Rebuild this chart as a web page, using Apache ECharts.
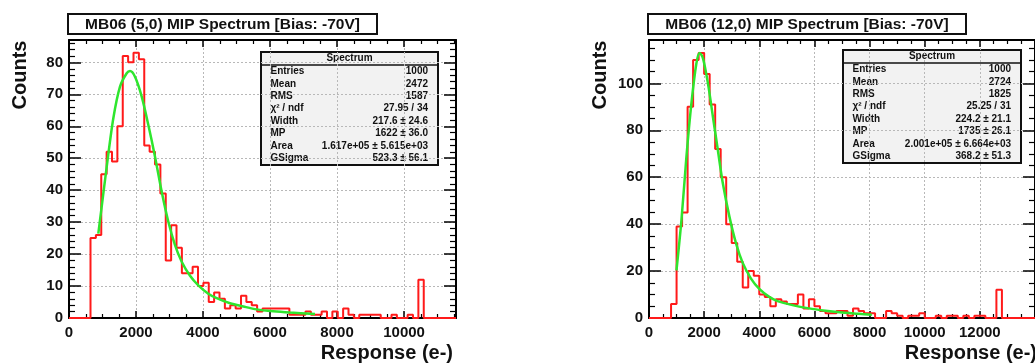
<!DOCTYPE html>
<html>
<head>
<meta charset="utf-8">
<script src="https://cdn.jsdelivr.net/npm/echarts@6/dist/echarts.min.js"></script>
<style>
  html, body { margin: 0; padding: 0; background: #fff; }
  #chart { width: 1035px; height: 363px; }
</style>
</head>
<body>
<div id="chart"></div>
<script>
// left histogram: 72 bins over 0..11550
const leftXMax = 11550;
const leftCounts = [
  0, 0, 0, 0, 25, 26, 45, 52, 49, 60, 82, 80, 83, 81, 54, 52, 48, 39, 18, 29,
  22, 14, 14, 16, 10, 11, 5, 8, 6, 3, 4, 3, 7, 5, 4, 2, 3, 3, 3, 3,
  3, 1, 1, 1, 2, 1, 1, 2, 0, 2, 0, 3, 1, 0, 1, 1, 1, 1, 0, 0,
  1, 0, 0, 1, 0, 12, 0, 0, 0, 0, 0, 0
];
const leftFit = [
  [875, 26.4], [975, 34.8], [1125, 47.3], [1323, 62.5], [1522, 72.4], [1722, 76.6],
  [1821, 77.3], [1970, 75.5], [2170, 69.3], [2368, 60.4], [2567, 50.5], [2767, 39.5],
  [2965, 30.1], [3164, 22.8], [3364, 17.6], [3612, 13.2], [3860, 10.2], [4158, 7.6],
  [4408, 6.2], [4806, 4.6], [5203, 3.6], [5602, 2.7], [6098, 2.1], [6597, 1.7], [7343, 1.25]
];
const leftTitle = "MB06 (5,0) MIP Spectrum [Bias: -70V]";
const leftStats = [
  ["Entries", "1000"], ["Mean", "2472"], ["RMS", "1587"], ["\u03c7\u00b2 / ndf", "27.95 / 34"],
  ["Width", "217.6 \u00b1 24.6"], ["MP", "1622 \u00b1 36.0"],
  ["Area", "1.617e+05 \u00b1 5.615e+03"], ["GSigma", "523.3 \u00b1 56.1"]
];

// right histogram: 70 bins over 0..14000
const rightXMax = 14000;
const rightCounts = [
  0, 0, 0, 0, 6, 39, 45, 90, 110, 113, 104, 91, 72, 60, 40, 32, 24, 13, 20, 18,
  10, 9, 5, 8, 7, 6, 6, 10, 4, 8, 5, 3, 2, 2, 3, 3, 1, 4, 3, 2,
  2, 0, 0, 3, 2, 1, 0, 1, 1, 2, 0, 0, 1, 0, 1, 1, 0, 1, 0, 1,
  1, 0, 0, 12, 0, 0, 0, 0, 0, 0
];
const rightFit = [
  [997, 20.3], [1177, 41.7], [1357, 68.7], [1538, 91.5], [1718, 108.5], [1838, 113],
  [1958, 110.7], [2138, 100], [2318, 85.8], [2498, 71.5], [2679, 57.3], [2919, 43.1],
  [3159, 31.7], [3399, 23.5], [3700, 16.8], [4000, 12.4], [4360, 9], [4661, 7.2],
  [5201, 5.5], [5802, 4.1], [6402, 3.1], [7003, 2.3], [7604, 1.8], [8083, 1.4]
];
const rightTitle = "MB06 (12,0) MIP Spectrum [Bias: -70V]";
const rightStats = [
  ["Entries", "1000"], ["Mean", "2724"], ["RMS", "1825"], ["\u03c7\u00b2 / ndf", "25.25 / 31"],
  ["Width", "224.2 \u00b1 21.1"], ["MP", "1735 \u00b1 26.1"],
  ["Area", "2.001e+05 \u00b1 6.664e+03"], ["GSigma", "368.2 \u00b1 51.3"]
];

const FONT = "'Liberation Sans', Arial, Helvetica, sans-serif";

function steps(counts, xMax) {
  const w = xMax / counts.length;
  const pts = counts.map((c, i) => [i * w, c]);
  pts.push([xMax, counts[counts.length - 1]]);
  return pts;
}

const labelStyle = {
  fontSize: 15, fontWeight: "bold", color: "#111", showMaxLabel: false,
  fontFamily: FONT, formatter: (v) => String(v),
};

function xAxes(grid, max, minor) {
  const base = {
    type: "value", gridIndex: grid, min: 0, max: max, interval: 2000,
    axisLine: { show: true, onZero: false, lineStyle: { color: "#000", width: 2 } },
    axisTick: { show: true, inside: true, length: 7, lineStyle: { color: "#000", width: 1.5 } },
    minorTick: { show: true, splitNumber: minor, length: 4, lineStyle: { color: "#000", width: 1.2 } },
  };
  return [
    { ...base, position: "bottom",
      axisLabel: { ...labelStyle, margin: 7 },
      splitLine: { show: true, lineStyle: { color: "#b8b8b8", type: [2, 2], width: 1 } } },
    { ...base, position: "top", axisLabel: { show: false }, splitLine: { show: false } },
  ];
}

function yAxes(grid, max, interval, minor) {
  const base = {
    type: "value", gridIndex: grid, min: 0, max: max, interval: interval,
    axisLine: { show: true, onZero: false, lineStyle: { color: "#000", width: 2 } },
    axisTick: { show: true, inside: true, length: 12, lineStyle: { color: "#000", width: 1.5 } },
    minorTick: { show: true, splitNumber: minor, length: 6, lineStyle: { color: "#000", width: 1.2 } },
  };
  return [
    { ...base, position: "left",
      axisLabel: { ...labelStyle, margin: 6 },
      splitLine: { show: true, lineStyle: { color: "#b8b8b8", type: [2, 2], width: 1 } } },
    { ...base, position: "right", axisLabel: { show: false }, splitLine: { show: false } },
  ];
}

function titleBox(x, y, w, text) {
  return {
    type: "group", x: x, y: y,
    children: [
      { type: "rect", shape: { x: 0, y: 0, width: w, height: 20 },
        style: { fill: "#fff", stroke: "#111", lineWidth: 2 } },
      { type: "text", x: w / 2, y: 10.5,
        style: { text: text, font: "bold 15.5px " + FONT, fill: "#111",
                 textAlign: "center", textVerticalAlign: "middle" } },
    ],
  };
}

function statsBox(x, y, w, rows) {
  const children = [
    { type: "rect", shape: { x: 0, y: 0, width: w, height: 113 },
      style: { fill: "#f2f2f2", stroke: "#111", lineWidth: 2 } },
    { type: "line", shape: { x1: 0, y1: 13, x2: w, y2: 13 },
      style: { stroke: "#111", lineWidth: 1.5 } },
    { type: "text", x: w / 2, y: 6.5,
      style: { text: "Spectrum", font: "bold 10px " + FONT, fill: "#111",
               textAlign: "center", textVerticalAlign: "middle" } },
  ];
  rows.forEach((r, i) => {
    const cy = 19.5 + i * 12.4;
    children.push(
      { type: "text", x: 9.5, y: cy,
        style: { text: r[0], font: "bold 10px " + FONT, fill: "#111", textVerticalAlign: "middle" } },
      { type: "text", x: w - 10, y: cy,
        style: { text: r[1], font: "bold 10px " + FONT, fill: "#111",
                 textAlign: "right", textVerticalAlign: "middle" } }
    );
  });
  return { type: "group", x: x, y: y, children: children };
}

function axisTitles(yx, xRight) {
  return [
    { type: "text", x: yx, y: 75, rotation: Math.PI / 2,
      style: { text: "Counts", font: "bold 20px " + FONT, fill: "#111",
               textAlign: "center", textVerticalAlign: "middle" } },
    { type: "text", x: xRight, y: 353,
      style: { text: "Response (e-)", font: "bold 20px " + FONT, fill: "#111",
               textAlign: "right", textVerticalAlign: "middle" } },
  ];
}

const chart = echarts.init(document.getElementById("chart"), null, { renderer: "canvas" });
chart.setOption({
  animation: false,
  backgroundColor: "#fff",
  textStyle: { fontFamily: FONT },
  grid: [
    { left: 69, top: 40, width: 387, height: 278 },
    { left: 649, top: 40, width: 388, height: 278 },
  ],
  xAxis: [...xAxes(0, leftXMax, 4), ...xAxes(1, rightXMax, 4)],
  yAxis: [...yAxes(0, 87, 10, 5), ...yAxes(1, 118.5, 20, 4)],
  series: [
    { type: "line", xAxisIndex: 0, yAxisIndex: 0, step: "end", symbol: "none",
      data: steps(leftCounts, leftXMax), lineStyle: { color: "#ff1a1a", width: 2 }, z: 3 },
    { type: "line", xAxisIndex: 0, yAxisIndex: 0, smooth: 0.3, symbol: "none",
      data: leftFit, lineStyle: { color: "#2ee62e", width: 2.5 }, z: 4 },
    { type: "line", xAxisIndex: 2, yAxisIndex: 2, step: "end", symbol: "none",
      data: steps(rightCounts, rightXMax), lineStyle: { color: "#ff1a1a", width: 2 }, z: 3 },
    { type: "line", xAxisIndex: 2, yAxisIndex: 2, smooth: 0.3, symbol: "none",
      data: rightFit, lineStyle: { color: "#2ee62e", width: 2.5 }, z: 4 },
  ],
  graphic: [
    titleBox(68, 14, 309, leftTitle),
    titleBox(648, 14, 318, rightTitle),
    statsBox(261, 52, 177, leftStats),
    statsBox(843, 50, 178, rightStats),
    ...axisTitles(20.5, 453),
    ...axisTitles(600, 1037),
  ],
});
</script>
</body>
</html>
